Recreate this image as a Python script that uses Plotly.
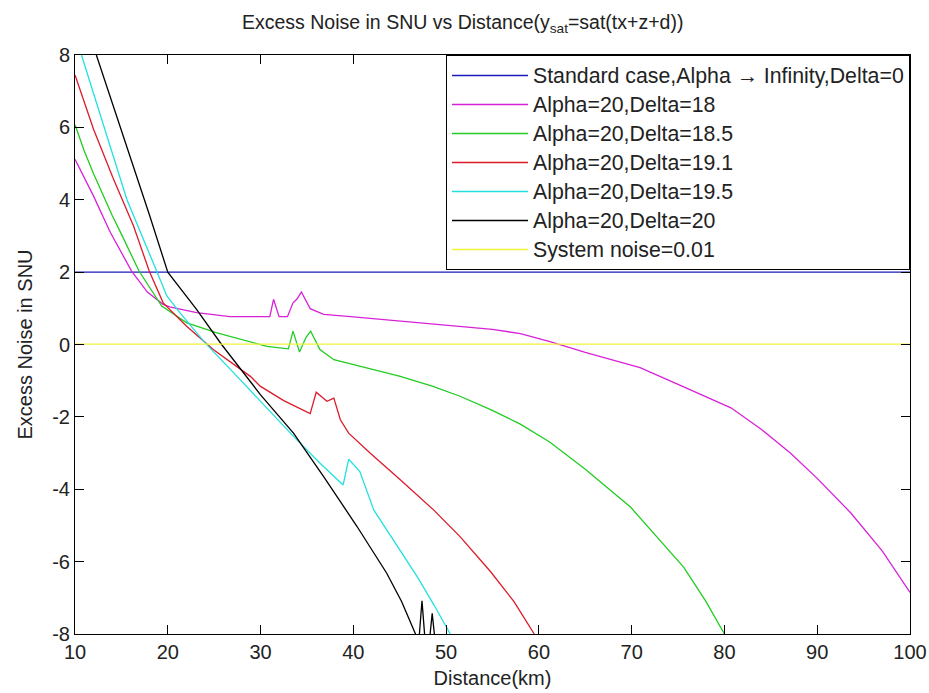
import plotly.graph_objects as go

# ---- data ----
names = [
    "Standard case,Alpha \u2192 Infinity,Delta=0",
    "Alpha=20,Delta=18",
    "Alpha=20,Delta=18.5",
    "Alpha=20,Delta=19.1",
    "Alpha=20,Delta=19.5",
    "Alpha=20,Delta=20",
    "System noise=0.01",
]
colors = ["#1a1ab8", "#d822d8", "#22cc22", "#dd1a2a", "#22e0e0", "#000000", "#f2f23a"]

std_x = [10, 100]
std_y = [2, 2]

d18_x = [10, 12, 13.8, 16.1, 17.8, 19.5, 20.2, 23.1, 26.7, 31.0, 31.4, 32.0, 32.9, 33.5, 33.9, 34.4,
         35.35, 36.8, 39.7, 45.06, 50, 55, 58, 61.2, 65, 70.9, 75, 80.7, 84, 87.1, 90, 93.6, 97, 100]
d18_y = [5.12, 4.1, 3.1, 2.03, 1.45, 1.11, 1.04, 0.88, 0.77, 0.77, 1.25, 0.77, 0.77, 1.15, 1.25, 1.45,
         0.99, 0.83, 0.77, 0.65, 0.55, 0.42, 0.3, 0.08, -0.22, -0.64, -1.1, -1.75, -2.35, -3.0, -3.7, -4.65, -5.7, -6.85]

d185_x = [10, 11, 12, 13, 14, 15, 16, 16.9, 19.35, 22.05, 25.3, 28.5, 30.7, 33.0, 33.5, 34.2, 34.9, 35.4,
          36.4, 37.9, 40.7, 45.06, 48.5, 51.5, 54.8, 58.0, 61.2, 65.0, 69.9, 73.0, 75.6, 78.0, 80.0]
d185_y = [6.07, 5.35, 4.72, 4.12, 3.57, 3.05, 2.52, 2.03, 1.06, 0.6, 0.32, 0.09, -0.05, -0.12, 0.37, -0.21, 0.2, 0.37,
          -0.14, -0.42, -0.6, -0.88, -1.15, -1.43, -1.8, -2.2, -2.7, -3.45, -4.5, -5.4, -6.15, -7.1, -8.0]

d191_x = [10, 12, 14.1, 16.3, 18.0, 19.5, 22.0, 24.9, 28.9, 29.96, 32.5, 35.35, 36.0, 37.15, 37.9, 38.6,
          39.5, 41.8, 45.06, 48.65, 51.5, 54.8, 57.3, 59.5]
d191_y = [7.45, 5.95, 4.6, 3.28, 2.03, 1.15, 0.51, -0.14, -0.88, -1.15, -1.55, -1.91, -1.32, -1.57, -1.48, -2.08,
          -2.45, -3.0, -3.74, -4.57, -5.31, -6.28, -7.1, -8.0]

d195_x = [10.7, 13.05, 15.6, 18.8, 19.9, 21.3, 24.0, 27.8, 29.96, 33.55, 36.5, 38.9, 39.5, 40.7, 42.2,
          44.3, 46.9, 48.7, 50.45]
d195_y = [8.0, 6.05, 4.0, 2.03, 1.34, 0.88, 0.05, -0.97, -1.57, -2.54, -3.3, -3.88, -3.17, -3.51, -4.57,
          -5.4, -6.42, -7.2, -8.0]

d20_x = [12.3, 14.0, 16.0, 18.0, 20.0, 21.5, 23.1, 25.8, 28.5, 30.0, 33.55, 36.8, 40.4, 43.6, 45.2, 46.7,
         47.0, 47.4, 47.8, 48.2, 48.5, 48.9, 50.0]
d20_y = [8.0, 6.7, 5.15, 3.6, 2.0, 1.5, 0.97, 0.0, -0.88, -1.39, -2.45, -3.65, -5.03, -6.32, -7.1, -8.0,
         -8.4, -7.08, -8.4, -8.2, -7.43, -8.4, -9.0]

sys_x = [10, 100]
sys_y = [0.01, 0.01]

x_ticks = [10, 20, 30, 40, 50, 60, 70, 80, 90, 100]
x_tick_text = ["10", "20", "30", "40", "50", "60", "70", "80", "90", "100"]
y_ticks = [-8, -6, -4, -2, 0, 2, 4, 6, 8]
y_tick_text = ["-8", "-6", "-4", "-2", "0", "2", "4", "6", "8"]

series = [(std_x, std_y), (d18_x, d18_y), (d185_x, d185_y), (d191_x, d191_y),
          (d195_x, d195_y), (d20_x, d20_y), (sys_x, sys_y)]

FONT = "Liberation Sans, Arial, sans-serif"
TXT = "#222222"

fig = go.Figure()
for (xs, ys), nm, col in zip(series, names, colors):
    fig.add_trace(go.Scatter(x=xs, y=ys, mode="lines",
                             name='<span style="font-size:21.3px">' + nm + "</span>",
                             line=dict(color=col, width=1.3)))

axis_common = dict(showgrid=False, zeroline=False, showline=True, linecolor="black", linewidth=1,
                   mirror="ticks", ticks="inside", ticklen=9, tickcolor="black", tickwidth=1,
                   automargin=False,
                   tickfont=dict(family=FONT, size=20, color=TXT))

fig.update_layout(
    template="none",
    width=929, height=693,
    margin=dict(l=75, r=19, t=55, b=59, autoexpand=False),
    paper_bgcolor="white", plot_bgcolor="white",
    font=dict(family=FONT, color=TXT),
    title=dict(text="Excess Noise in SNU vs Distance(y<sub>sat</sub>=sat(tx+z+d))",
               x=242 / 929, xanchor="left", xref="container",
               y=1 - 22 / 693, yanchor="middle", yref="container",
               font=dict(family=FONT, size=19.5, color=TXT)),
    xaxis=dict(range=[10, 100], tickvals=x_ticks, ticktext=x_tick_text,
               title=dict(text="Distance(km)", font=dict(family=FONT, size=20, color=TXT), standoff=8),
               **axis_common),
    yaxis=dict(range=[-8, 8], tickvals=y_ticks, ticktext=y_tick_text,
               title=dict(text="Excess Noise in SNU", font=dict(family=FONT, size=20, color=TXT), standoff=14),
               **axis_common),
    showlegend=True,
    legend=dict(x=1, xanchor="right", y=1, yanchor="top",
                bgcolor="white", bordercolor="black", borderwidth=1,
                font=dict(family=FONT, size=20, color=TXT),
                itemwidth=76, tracegroupgap=0),
)

fig.write_html("out.html")
